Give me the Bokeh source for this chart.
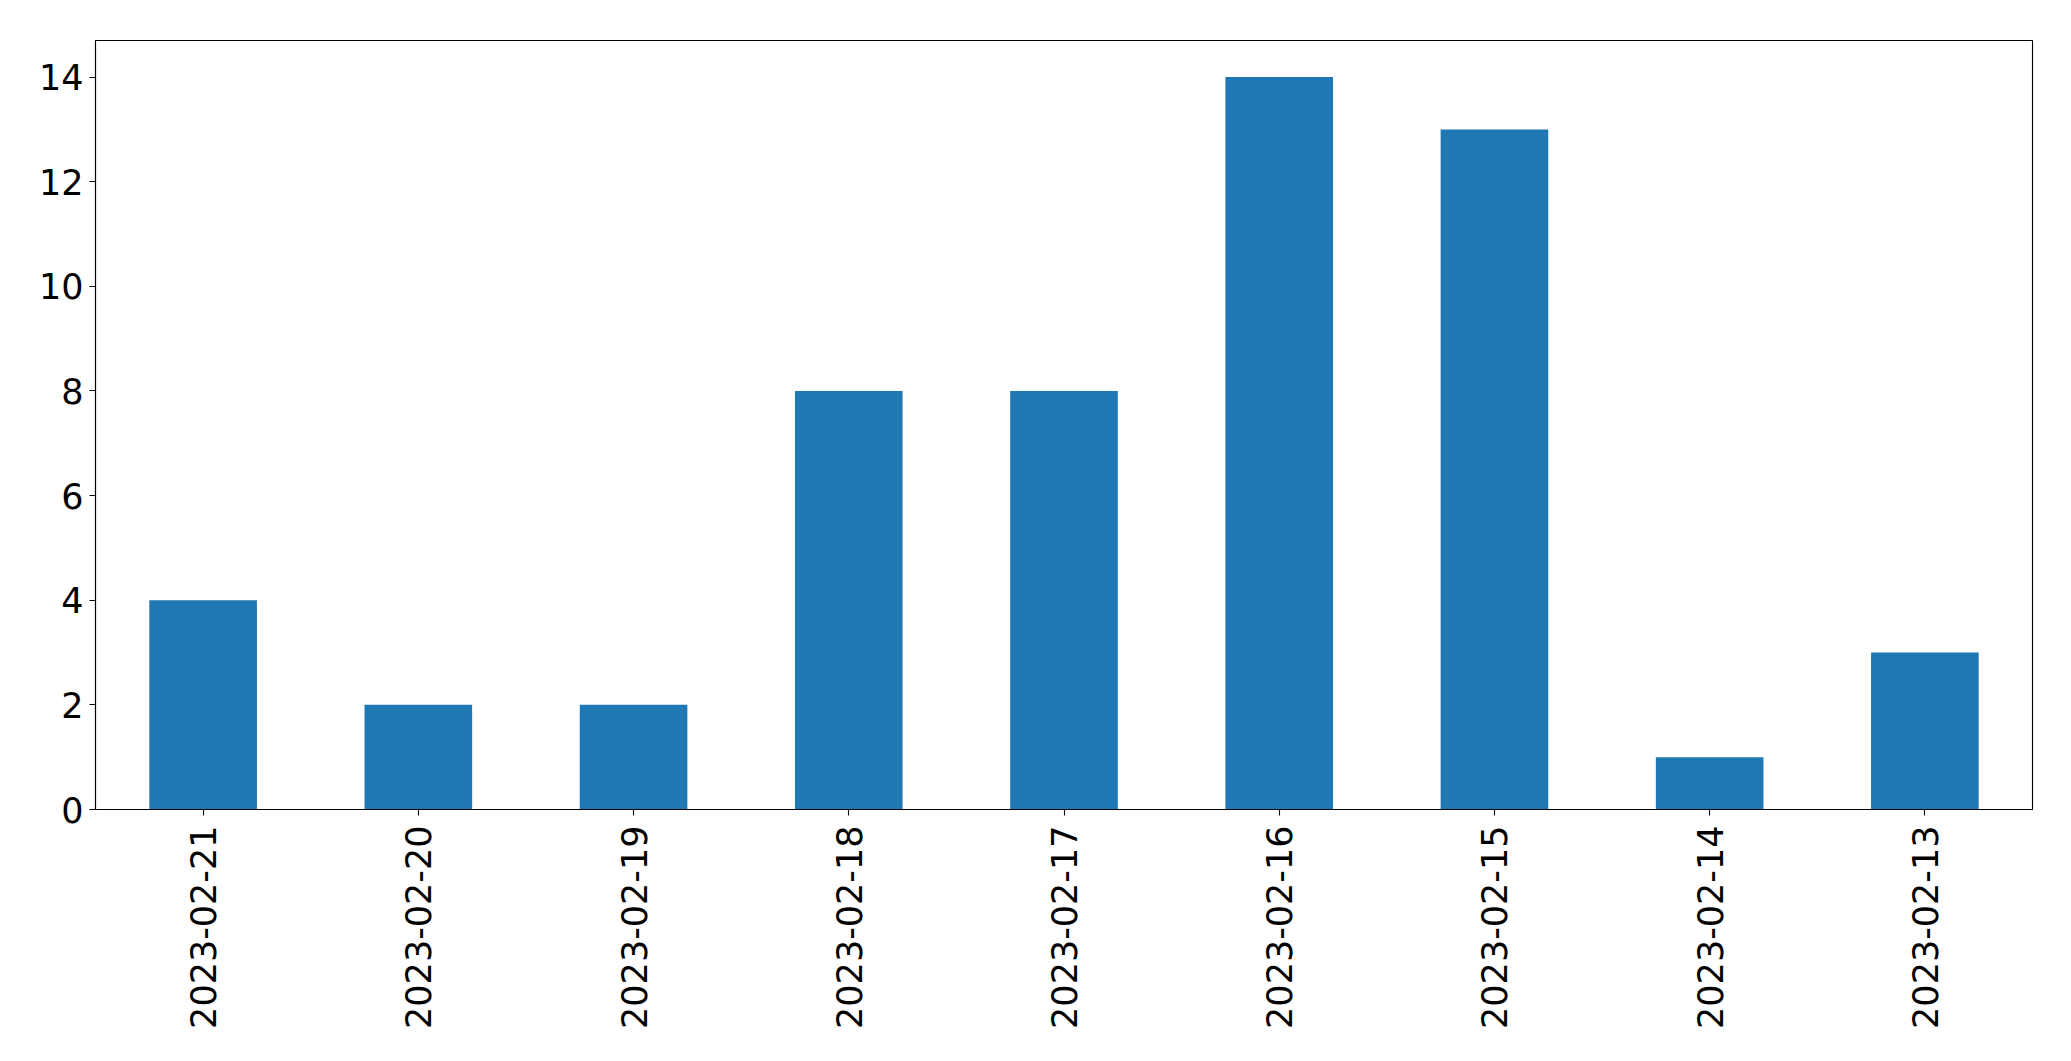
from math import pi
from bokeh.plotting import figure
from bokeh.models import FactorRange, Range1d, FixedTicker, ColumnDataSource
from bokeh.embed import file_html
from bokeh.resources import INLINE

dates = ["2023-02-21", "2023-02-20", "2023-02-19", "2023-02-18", "2023-02-17",
         "2023-02-16", "2023-02-15", "2023-02-14", "2023-02-13"]
counts = [4, 2, 2, 8, 8, 14, 13, 1, 3]
y_ticks = [0, 2, 4, 6, 8, 10, 12, 14]

src = ColumnDataSource(data=dict(x=dates, y=counts))

p = figure(width=2052, height=1039, output_backend="svg", toolbar_location=None,
           x_range=FactorRange(factors=dates, range_padding=0),
           y_range=Range1d(0, max(counts) * 1.05),
           min_border_left=95, min_border_right=20, min_border_top=40, min_border_bottom=230)

p.vbar(x="x", top="y", width=0.5, source=src, color="#1f77b4", line_color=None)

p.xgrid.visible = False
p.ygrid.visible = False
p.outline_line_color = "black"
p.outline_line_width = 1.1
p.background_fill_color = "white"
p.border_fill_color = "white"

FONT = "DejaVu Sans"
for ax in (p.xaxis[0], p.yaxis[0]):
    ax.axis_line_color = "black"
    ax.axis_line_width = 1.1
    ax.major_tick_line_color = "black"
    ax.major_tick_line_width = 1.1
    ax.major_tick_in = 0
    ax.minor_tick_line_color = None
    ax.major_label_text_font = FONT
    ax.major_label_text_font_size = "35px"
    ax.major_label_text_color = "black"

p.yaxis[0].ticker = FixedTicker(ticks=y_ticks)
p.yaxis[0].major_tick_out = 6
p.yaxis[0].major_label_standoff = 6
p.xaxis[0].major_tick_out = 6
p.xaxis[0].major_label_standoff = 10
p.xaxis[0].major_label_orientation = pi / 2

open("out.html", "w").write(file_html(p, INLINE))
